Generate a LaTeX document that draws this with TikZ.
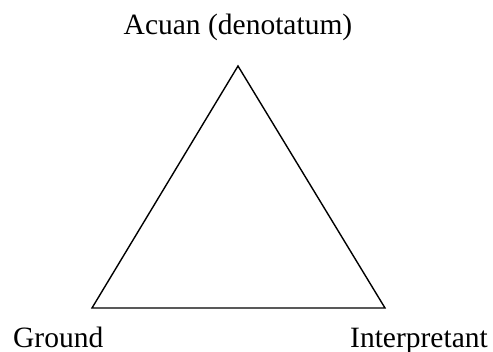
\documentclass[tikz,border=0pt]{standalone}
\usepackage{fontspec}
\setmainfont{Liberation Serif}
\begin{document}
\begin{tikzpicture}[x=1pt,y=1pt,
  lbl/.style={inner sep=0pt,font=\fontsize{29.5}{32}\selectfont},
  edge/.style={line width=1.4pt,line join=miter}]
\useasboundingbox (0,0) rectangle (493,351);
\coordinate (apex) at (238,285);
\coordinate (bl) at (92,43);
\coordinate (br) at (385,43);
\draw[edge] (apex) -- (bl) -- (br) -- cycle;
\node[lbl,anchor=base] (acuan) at (238,316) {Acuan (denotatum)};
\node[lbl,anchor=base west] (ground) at (13,4) {Ground};
\node[lbl,anchor=base west] (interp) at (350,4) {Interpretant};
\end{tikzpicture}
\end{document}
